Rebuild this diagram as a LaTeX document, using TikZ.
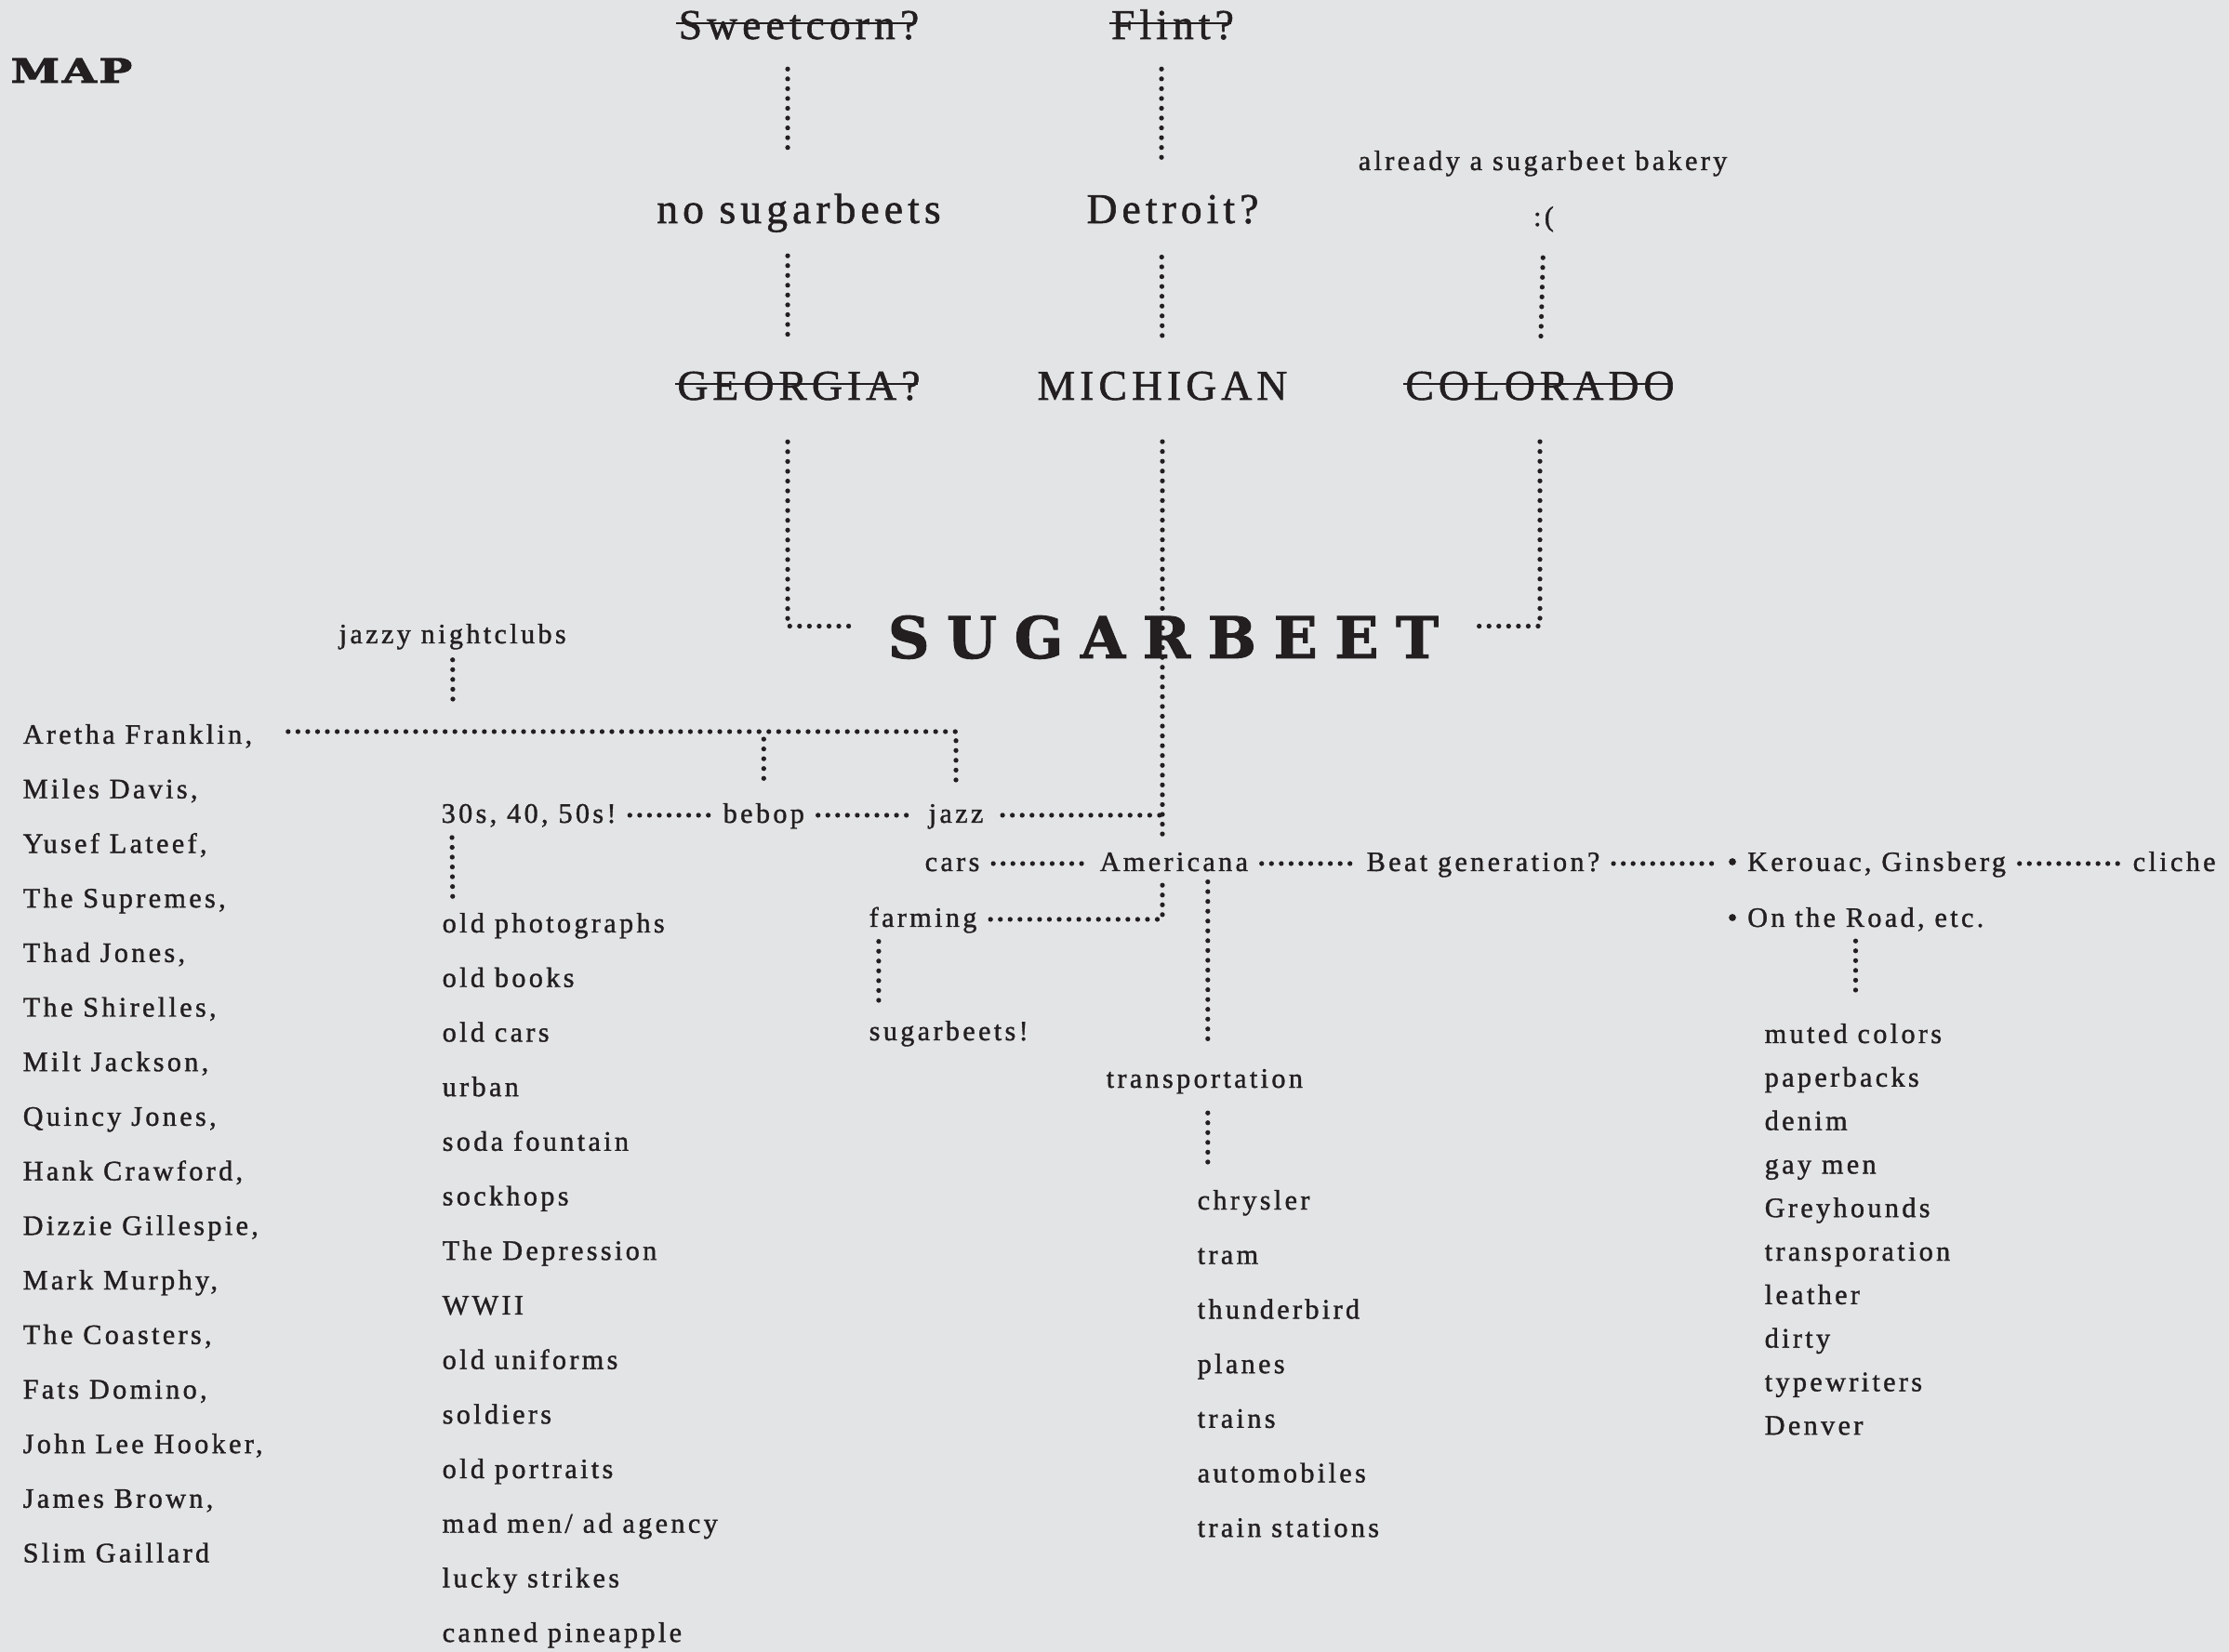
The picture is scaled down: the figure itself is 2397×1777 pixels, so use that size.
\documentclass[tikz,border=0pt]{standalone}
\usepackage{fontspec}
\usepackage{tikz}
\newfontfamily\bodyfont[LetterSpace=11,FakeBold=1.2]{Liberation Serif}
\newfontfamily\slabfont[LetterSpace=30,FakeBold=1.5]{DejaVu Serif}
\newfontfamily\mapfont[LetterSpace=6,FakeBold=2.5]{DejaVu Serif}
\definecolor{paper}{HTML}{E3E4E6}
\definecolor{ink}{HTML}{231F20}

\begin{document}
\begin{tikzpicture}[x=.01cm,y=-.01cm,every node/.style={inner sep=0pt,text=ink},
  txt/.style={font=\bodyfont\fontsize{8.6}{10}\selectfont,anchor=base west},
  big/.style={font=\bodyfont\fontsize{13}{15}\selectfont,anchor=base},
  dotline/.style={draw=ink,line width=1.5pt,line cap=round,dash pattern=on 0pt off 3pt},
  leaddots/.style={dotline,shorten <=4pt,shorten >=4pt},
  strike/.style={draw=ink,line width=.6pt,shorten <=-.5pt,shorten >=1pt}]
\useasboundingbox (0,0) rectangle (2397,1777);\fill[paper] (0,0) rectangle (2397,1777);
% title and the three states
\node[anchor=base west,font=\mapfont\bfseries\fontsize{10.2}{12}\selectfont] (map) at (11,89) {\scalebox{1.32}[1]{MAP}};
\node[big] (sweet) at (859,42) {Sweetcorn?};\node[big] (flint) at (1261,42) {Flint?};
\node[big] (nosugar) at (859,240) {no sugarbeets};\node[big] (detroit) at (1261,240) {Detroit?};
\node[txt,anchor=base] (bakery) at (1659,183) {already a sugarbeet bakery};
\node[txt,anchor=base] (frown) at (1660,243) {:(};
\node[big] (georgia) at (859,430) {GEORGIA?};\node[big] (michigan) at (1250,430) {MICHIGAN};
\node[big] (colorado) at (1656,430) {COLORADO};
\foreach \n in {sweet,flint,georgia,colorado}{\draw[strike] ([yshift=4.8pt]\n.base west) -- ([yshift=4.8pt]\n.base east);}
\node[anchor=base,font=\slabfont\bfseries\fontsize{17.6}{20}\selectfont] (sugarbeet) at (1251,708) {SUGARBEET};
\draw[dotline,shorten <=8.8pt,shorten >=11pt] ([xshift=-3.4pt]sweet.south) -- ([xshift=-3.4pt]nosugar.north);
\draw[dotline,shorten <=8.8pt,shorten >=11pt] ([xshift=-3.4pt]flint.south) -- ([xshift=-3.4pt]detroit.north);
\draw[dotline,shorten <=7pt,shorten >=8.5pt] ([xshift=-3.4pt]nosugar.south) -- ([xshift=-3.4pt]georgia.north);
\draw[dotline,shorten <=10pt,shorten >=8.5pt] ([xshift=-3.4pt]detroit.south) -- (michigan.north);
\draw[dotline,shorten <=7.7pt,shorten >=8.5pt] (frown.south) -- (colorado.north);
\draw[dotline,shorten <=12.5pt,shorten >=10.5pt] ([xshift=-3.4pt]georgia.south) |- ([yshift=3.4pt]sugarbeet.west);
\draw[dotline,shorten <=12.5pt,shorten >=10pt] (colorado.south) |- ([yshift=3.4pt]sugarbeet.east);
% jazz branch
\node[txt] (jazzy) at (364,692) {jazzy nightclubs};\coordinate (clubs) at (487,754);
\draw[dotline,shorten <=3pt] (jazzy.south) -- (clubs);
\foreach \t [count=\i from 0] in {{Aretha Franklin,},{Miles Davis,},{Yusef Lateef,},{The Supremes,},{Thad Jones,},{The Shirelles,},{Milt Jackson,},{Quincy Jones,},{Hank Crawford,},{Dizzie Gillespie,},{Mark Murphy,},{The Coasters,},{Fats Domino,},{John Lee Hooker,},{James Brown,},{Slim Gaillard}}
  {\node[txt] (art\i) at (24,{800+58.7*\i}) {\t};}
\node[txt] (thirties) at (474,885) {30s, 40, 50s!};\node[txt] (bebop) at (777,885) {bebop};\node[txt] (jazz) at (998,885) {jazz};
\coordinate (arl) at ([yshift=3.7pt]art0.base east);
\draw[dotline,shorten <=10.8pt,shorten >=5.7pt] (arl) -| (jazz.north);
\draw[dotline,shorten <=2.3pt,shorten >=6pt] (arl -| bebop.north) -- (bebop.north);
\draw[leaddots] ([yshift=2.3pt]thirties.base east) -- ([yshift=2.3pt]bebop.base west);
\draw[leaddots] ([yshift=2.3pt]bebop.base east) -- ([yshift=2.3pt]jazz.base west);
\coordinate (jzl) at ([yshift=2.3pt]jazz.base east);
\draw[dotline,shorten <=5.7pt] (jzl) -- (jzl -| michigan.south);
\foreach \t [count=\i from 0] in {old photographs,old books,old cars,urban,soda fountain,sockhops,The Depression,WWII,old uniforms,soldiers,old portraits,mad men/ ad agency,lucky strikes,canned pineapple}
  {\node[txt] (old\i) at (475,{1003+58.7*\i}) {\t};}
\draw[dotline,shorten <=3pt,shorten >=4.8pt] ([xshift=3.4pt]thirties.south west) -- ([xshift=3.4pt]old0.north west);
% americana row
\node[txt] (cars) at (994,937) {cars};\node[txt] (americana) at (1182,937) {Americana};
\node[txt] (beat) at (1469,937) {Beat generation?};\node[txt] (kerouac) at (1857,937) {• Kerouac, Ginsberg};
\node[txt] (cliche) at (2293,937) {cliche};\node[txt] (ontheroad) at (1857,997) {• On the Road, etc.};
\foreach \a/\b in {cars/americana,americana/beat,beat/kerouac,kerouac/cliche}
  {\draw[leaddots] ([yshift=2.3pt]\a.base east) -- ([yshift=2.3pt]\b.base west);}
\draw[dotline,shorten <=12.5pt,shorten >=5pt] (michigan.south) -- (michigan.south |- americana.north);
\node[txt] (farming) at (934,997) {farming};\node[txt] (sugarbeets) at (934,1119) {sugarbeets!};
\coordinate (fml) at ([yshift=2.3pt]farming.base east);
\draw[dotline,shorten <=4pt,shorten >=3.7pt] (fml) -| (americana.south -| michigan.south);
\draw[dotline,shorten <=2.4pt,shorten >=6pt] ([xshift=3.1pt]farming.south west) -- ([xshift=3.1pt]sugarbeets.north west);
\node[txt] (transport) at (1189,1170) {transportation};
\draw[dotline,shorten <=3pt,shorten >=8.5pt] ([xshift=1pt]americana.south -| transport.north) -- ([xshift=1pt]transport.north);
\foreach \t [count=\i from 0] in {chrysler,tram,thunderbird,planes,trains,automobiles,train stations}
  {\node[txt] (trn\i) at (1287,{1301+58.7*\i}) {\t};}
\draw[dotline,shorten <=5.7pt,shorten >=5.4pt] ([xshift=1pt]transport.south) -- ([xshift=1pt]transport.south |- trn0.north);
\foreach \t [count=\i from 0] in {muted colors,paperbacks,denim,gay men,Greyhounds,transporation,leather,dirty,typewriters,Denver}
  {\node[txt] (bt\i) at (1897,{1122+46.8*\i}) {\t};}
\draw[dotline,shorten <=2.8pt,shorten >=7.7pt] (ontheroad.south) -- (ontheroad.south |- bt0.north);
\end{tikzpicture}
\end{document}
